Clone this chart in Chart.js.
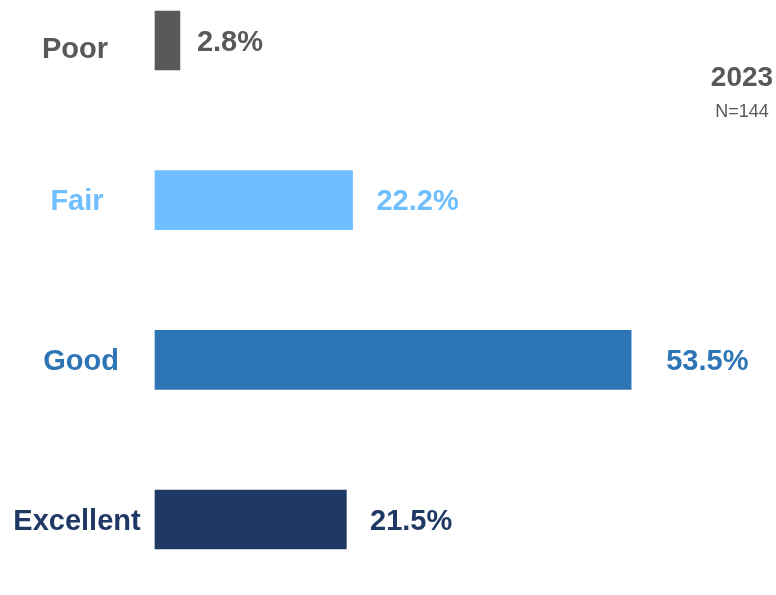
<!DOCTYPE html>
<html>
<head>
<meta charset="utf-8">
<script src="https://cdn.jsdelivr.net/npm/chart.js@4/dist/chart.umd.min.js"></script>
<style>
  html, body { margin: 0; padding: 0; background: #ffffff; }
  #wrap { position: relative; width: 776px; height: 595px; }
</style>
</head>
<body>
<div id="wrap"><canvas id="c" width="776" height="595"></canvas></div>
<script>
// Health rating shares, 2023 survey
const categories = ['Poor', 'Fair', 'Good', 'Excellent'];
const shares = [2.8, 22.2, 53.5, 21.5];
const barColors = ['#595959', '#6FBEFF', '#2E75B6', '#203864'];
const yearLabel = '2023';
const sampleLabel = 'N=144';

const FONT = '"Liberation Sans", Arial, Helvetica, sans-serif';

// Category names on the left and value labels past each bar
const labelPlugin = {
  id: 'barLabels',
  afterDatasetsDraw(chart) {
    const ctx = chart.ctx;
    const xs = chart.scales.x;
    const ys = chart.scales.y;
    const nameShift = [[-2, 9], [0, 2], [4, 2], [0, 2]];
    ctx.save();
    ctx.font = 'bold 29px ' + FONT;
    ctx.textBaseline = 'middle';
    categories.forEach((name, i) => {
      const y = ys.getPixelForValue(i);
      ctx.fillStyle = barColors[i];
      ctx.textAlign = 'center';
      ctx.fillText(name, 77 + nameShift[i][0], y + nameShift[i][1]);
      ctx.textAlign = 'left';
      const lx = xs.getPixelForValue(shares[i] * 1.04) + 16;
      ctx.fillText(shares[i].toFixed(1) + '%', lx, y + 2);
    });
    // year and sample size
    ctx.fillStyle = '#595959';
    ctx.textAlign = 'center';
    ctx.font = 'bold 28px ' + FONT;
    ctx.fillText(yearLabel, 742, 78);
    ctx.font = '18px ' + FONT;
    ctx.fillText(sampleLabel, 742, 112);
    ctx.restore();
  }
};

new Chart(document.getElementById('c'), {
  type: 'bar',
  data: {
    labels: categories,
    datasets: [{
      data: shares,
      backgroundColor: barColors,
      borderWidth: 0,
      barThickness: 59,
      clip: false
    }]
  },
  options: {
    indexAxis: 'y',
    responsive: false,
    animation: false,
    layout: { padding: { left: 155, right: 87, top: 40.5, bottom: 75.5 } },
    plugins: { legend: { display: false }, tooltip: { enabled: false } },
    scales: {
      x: { type: 'linear', min: 0, max: 60, display: false },
      y: { type: 'category', offset: false, display: false, grid: { offset: false } }
    }
  },
  plugins: [labelPlugin]
});
</script>
</body>
</html>
